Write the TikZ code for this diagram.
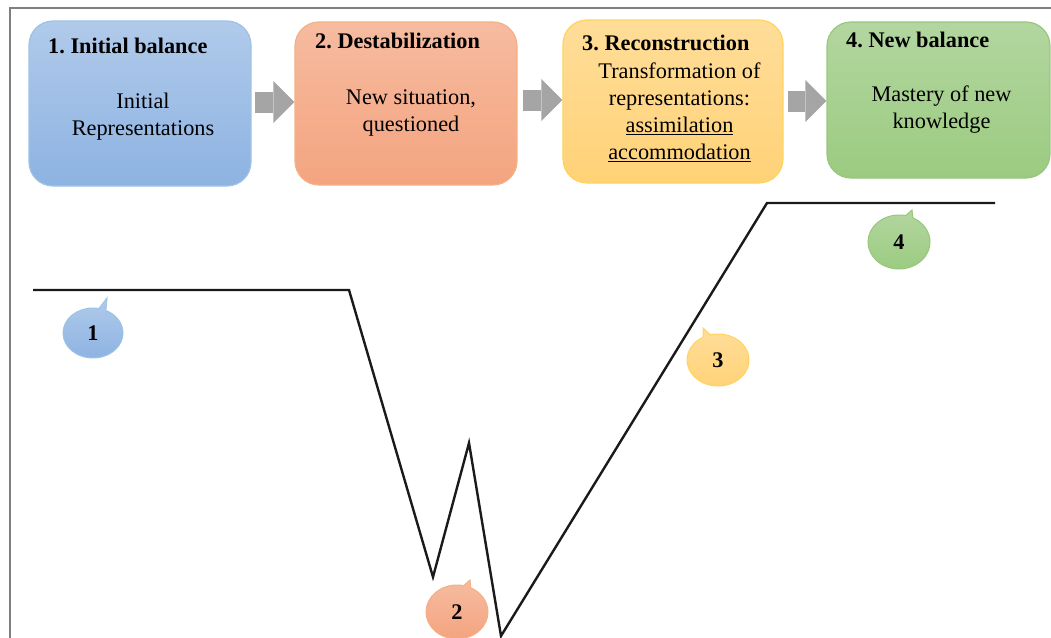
\documentclass[tikz,border=0pt]{standalone}
\usepackage{fontspec}
\setmainfont{Liberation Serif}
\usetikzlibrary{shapes.callouts,arrows.meta}
\frenchspacing

\definecolor{bluetop}{HTML}{B0CAEA}
\definecolor{bluebot}{HTML}{8DB3E2}
\definecolor{blueline}{HTML}{9DC3E6}
\definecolor{orangetop}{HTML}{F6BBA0}
\definecolor{orangebot}{HTML}{F4A47F}
\definecolor{orangeline}{HTML}{F4B183}
\definecolor{yellowtop}{HTML}{FFDD99}
\definecolor{yellowbot}{HTML}{FFD277}
\definecolor{yellowline}{HTML}{FFD45C}
\definecolor{greentop}{HTML}{B3D6A0}
\definecolor{greenbot}{HTML}{9BCB80}
\definecolor{greenline}{HTML}{97C77B}
\definecolor{arrowgray}{HTML}{A5A5A5}
\definecolor{framegray}{HTML}{7F7F7F}
\definecolor{linedark}{HTML}{1A1A1A}

\newcommand\labelsize{\fontsize{22.3}{27}\selectfont}

\tikzset{
  phase/.style={draw=#1line, top color=#1top, bottom color=#1bot,
    line width=1.2pt, rounded corners=24pt, inner sep=0pt},
  stage/.style={anchor=base west, inner sep=0pt, font=\labelsize\bfseries},
  note/.style={align=center, inner sep=0pt, font=\labelsize},
  flow/.style={line width=21pt, draw=arrowgray,
    -{Triangle[length=21pt,width=42pt,line width=0pt]}},
  bubble/.style={ellipse callout, draw=#1line, top color=#1top, bottom color=#1bot,
    line width=1pt, minimum width=62pt, minimum height=52pt, inner sep=0pt,
    callout pointer arc=14, font=\labelsize\bfseries},
  trend/.style={line width=2.4pt, draw=linedark, line join=miter},
  frame/.style={line width=1.8pt, draw=framegray}
}

\begin{document}
\begin{tikzpicture}[x=1pt,y=-1pt]
  \useasboundingbox (0,0) rectangle (1051,637);
  \draw[frame] (1060,8) -- (10,8) -- (10,650);

  \node[phase=blue, minimum width=222pt, minimum height=165pt] (b1) at (140,103.5) {};
  \node[phase=orange, minimum width=222pt, minimum height=163pt] (b2) at (406,103.5) {};
  \node[phase=yellow, minimum width=220pt, minimum height=163pt] (b3) at (673,101.5) {};
  \node[phase=green, minimum width=223pt, minimum height=156pt] (b4) at (938.5,100) {};

  \node[stage] (t1) at (48,53) {1. Initial balance};
  \node[stage] (t2) at (315,48) {2. Destabilization};
  \node[stage] (t3) at (582,50) {3. Reconstruction};
  \node[stage] (t4) at (846,47) {4. New balance};

  \node[note] (n1) at (143,116.4) {Initial\\Representations};
  \node[note] (n2) at (411,113.4) {New situation,\\questioned};
  \node[note] (n3) at (679.5,112) {Transformation of\\representations:\\\underline{assimilation}\\\underline{accommodation}};
  \node[note] (n4) at (941.5,109.9) {Mastery of new\\knowledge};

  \draw[flow] ([xshift=3pt]b1.east |- 0,102) -- (b2.west |- 0,102);
  \draw[flow] ([xshift=5pt]b2.east |- 0,100) -- (b3.west |- 0,100);
  \draw[flow] ([xshift=4pt]b3.east |- 0,101) -- (b4.west |- 0,101);

  \draw[trend] (33,290) -- (349,290) -- (433,577) -- (469,443) -- (501,636)
    -- (767,203) -- (995,203);

  \node[bubble=blue, minimum width=60pt, minimum height=50pt,
    callout absolute pointer={(107,298)}] (c1) at (93,333) {1};
  \node[bubble=orange, minimum height=54pt,
    callout absolute pointer={(470,580)}] (c2) at (457,612) {2};
  \node[bubble=yellow, callout absolute pointer={(703,328)}] (c3) at (718,360) {3};
  \node[bubble=green, minimum height=54pt,
    callout absolute pointer={(912,210)}] (c4) at (899,242) {4};
\end{tikzpicture}
\end{document}
